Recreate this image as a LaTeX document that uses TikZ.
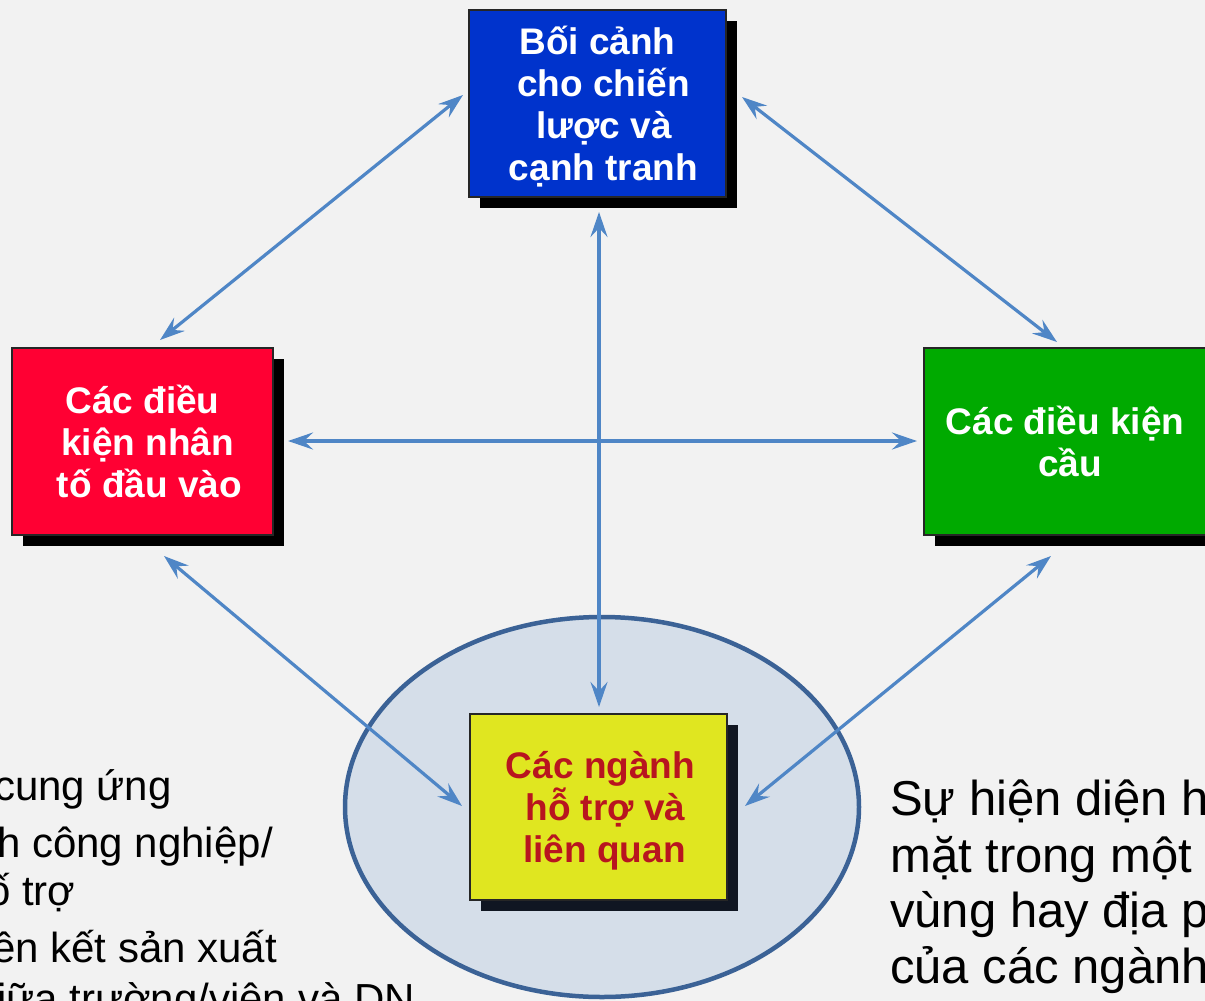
\documentclass[tikz,border=0pt]{standalone}
\usepackage{fontspec}
\setmainfont{Liberation Sans}
\usetikzlibrary{arrows.meta,shadows}

\definecolor{pagebg}{HTML}{F2F2F2}
\definecolor{boxblue}{HTML}{0033CC}
\definecolor{boxred}{HTML}{FF0033}
\definecolor{boxgreen}{HTML}{00AA00}
\definecolor{boxyellow}{HTML}{E0E620}
\definecolor{darkred}{HTML}{B8151F}
\definecolor{linkblue}{HTML}{4F86C6}
\definecolor{ovalfill}{HTML}{D5DEE9}
\definecolor{ovaledge}{HTML}{3B6296}
\definecolor{navyshadow}{HTML}{101622}

% indent used to nudge a label line to the right
\newcommand{\ind}[1]{\hspace*{#1pt}}

\tikzset{
  factor/.style={draw=black!85, line width=1.3pt, inner sep=0pt,
    minimum height=187pt, align=center, text=white,
    font=\fontsize{37}{42}\selectfont\bfseries,
    drop shadow={shadow xshift=11pt, shadow yshift=-11pt, opacity=1, fill=black}},
  link/.style={draw=linkblue, line width=3.2pt,
    {Stealth[length=25pt,width=17pt,inset=9pt]}-{Stealth[length=25pt,width=17pt,inset=9pt]}},
  note/.style={anchor=base west, inner sep=0pt, text=black}
}

\begin{document}
\begin{tikzpicture}[x=1pt, y=-1pt]
  \useasboundingbox (0,0) rectangle (1205,1001);
  \clip (0,0) rectangle (1205,1001);
  \fill[pagebg] (0,0) rectangle (1205,1001);

  % cluster oval around the supporting industries
  \draw[fill=ovalfill, draw=ovaledge, line width=4.5pt] (602,807) ellipse [x radius=257, y radius=190];

  % the four determinants
  \node[factor, fill=boxblue, minimum width=257pt] (ctx) at (597.5,103.5)
    {\rule{0pt}{34pt}Bối cảnh\\\ind{12}cho chiến\\\ind{13}lược và\\\ind{12}cạnh tranh};
  \node[factor, fill=boxred, minimum width=261pt] (inp) at (142.5,441.5)
    {Các điều\\\ind{10}kiện nhân\\\ind{14}tố đầu vào};
  \node[factor, fill=boxgreen, minimum width=282pt] (dem) at (1065,441.5)
    {Các điều kiện\\\ind{10}cầu};
  \node[factor, fill=boxyellow, text=darkred, minimum width=257pt, minimum height=186pt,
        drop shadow={shadow xshift=11pt, shadow yshift=-11pt, opacity=1, fill=navyshadow}]
    (rel) at (598.5,807) {\rule{0pt}{34pt}\ind{4}Các ngành\\\ind{14}hỗ trợ và\\\ind{12}liên quan};

  % connector end points around the boxes
  \coordinate (ctxW) at (463,95);
  \coordinate (ctxE) at (742,97);
  \coordinate (ctxS) at (599,212);
  \coordinate (inpN) at (160,340);
  \coordinate (inpE) at (288,441);
  \coordinate (inpS) at (164,556);
  \coordinate (demN) at (1057,342);
  \coordinate (demW) at (917,441);
  \coordinate (demS) at (1051,556);
  \coordinate (relN) at (599,707);
  \coordinate (relW) at (462,806);
  \coordinate (relE) at (745,806);

  % interactions
  \draw[link] (ctxW) -- (inpN);
  \draw[link] (ctxE) -- (demN);
  \draw[link] (ctxS) -- (relN);
  \draw[link] (inpE) -- (demW);
  \draw[link] (inpS) -- (relW);
  \draw[link] (demS) -- (relE);

  % side notes
  \begin{scope}[font=\fontsize{42}{48}\selectfont]
    \node[note] (l1) at (-6,800) {cung ứng};
    \node[note] (l2) at (-3,857) {h công nghiệp/};
    \node[note] (l3) at (-13,905) {ố trợ};
    \node[note] (l4) at (-8,962) {ên kết sản xuất};
    \node[note] (l5) at (-3,1013) {iữa trường/viện và DN};
  \end{scope}
  \begin{scope}[font=\fontsize{49}{57}\selectfont]
    \node[note] (r1) at (890,815) {Sự hiện diện h};
    \node[note] (r2) at (890,872) {mặt trong một c};
    \node[note] (r3) at (890,927) {vùng hay địa p};
    \node[note] (r4) at (890,983) {của các ngành/};
  \end{scope}
\end{tikzpicture}
\end{document}
